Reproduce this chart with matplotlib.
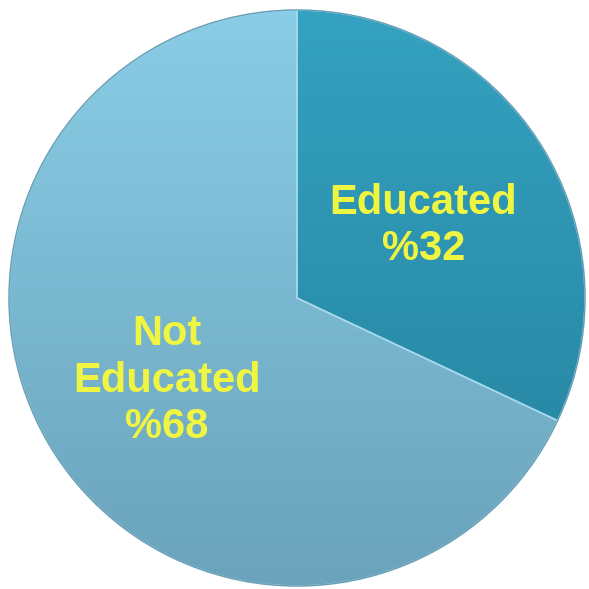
import numpy as np
import matplotlib
matplotlib.use("Agg")
import matplotlib.pyplot as plt
from matplotlib.colors import LinearSegmentedColormap
from matplotlib.patches import Wedge, Circle

categories = ["Educated", "Not\nEducated"]
values = [32, 68]
pct_labels = ["%32", "%68"]

top_colors = ["#34a2c0", "#8acde6"]
bot_colors = ["#24809c", "#6aa3bb"]

fig = plt.figure(figsize=(5.89, 5.89), dpi=100)
ax = fig.add_axes([0, 0, 1, 1])
R = 288.0
cx, cy = 297.0, 298.0

wedges, _ = ax.pie(values, startangle=90, counterclock=False, radius=1.0,
                   colors=top_colors, center=(0, 0),
                   wedgeprops=dict(linewidth=0))
ax.set_xlim(-cx / R, (589 - cx) / R)
ax.set_ylim(-(589 - cy) / R, cy / R)
ax.set_aspect("equal")
ax.axis("off")

grad = np.linspace(0, 1, 256).reshape(-1, 1)
for w, tc, bc in zip(wedges, top_colors, bot_colors):
    cmap = LinearSegmentedColormap.from_list("g", [tc, bc])
    im = ax.imshow(grad, extent=(-1, 1, -1, 1), origin="upper", cmap=cmap,
                   aspect="auto", zorder=2)
    im.set_clip_path(w)
    w.set_zorder(1)

for w in wedges:
    ax.add_patch(Wedge((0, 0), 1.0, w.theta1, w.theta2, fill=False,
                       edgecolor="#a9dcef", linewidth=1.2, zorder=3, alpha=0.8))
ax.add_patch(Circle((0, 0), 1.0, fill=False, edgecolor="#6a9bb0",
                    linewidth=0.9, zorder=3))

label_r = [0.505, 0.535]
label_da = [-2.6, 0.0]
for w, cat, pct, lr, da in zip(wedges, categories, pct_labels, label_r, label_da):
    ang = np.deg2rad((w.theta1 + w.theta2) / 2 + da)
    x, y = lr * np.cos(ang), lr * np.sin(ang)
    ax.text(x, y, cat + "\n" + pct, ha="center", va="center",
            fontsize=30, fontweight="bold", family="Liberation Sans",
            color="#f0f542", linespacing=1.2, zorder=5)

fig.savefig("out.png", dpi=100)
